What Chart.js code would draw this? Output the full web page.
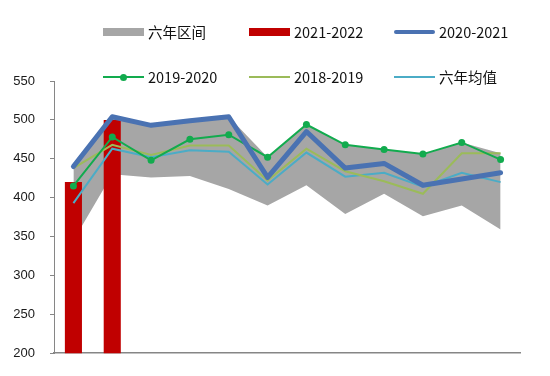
<!DOCTYPE html>
<html><head><meta charset="utf-8">
<script src="https://cdn.jsdelivr.net/npm/chart.js@4"></script>
<style>
html,body{margin:0;padding:0;background:#fff;}
#wrap{position:relative;width:550px;height:376px;overflow:hidden;}
canvas{position:absolute;left:0;top:0;}
.lg{position:absolute;font-family:"Noto Sans CJK SC","Noto Sans",sans-serif;font-size:14.5px;color:#111;line-height:18px;white-space:nowrap;}
.sw{position:absolute;}
</style></head><body>
<div id="wrap"><canvas id="c" width="550" height="376" style="width:550px;height:376px"></canvas><div id="legend"></div></div>
<script>
// ---- data ----
const categories = ['9月','10月','11月','12月','1月','2月','3月','4月','5月','6月','7月','8月'];
const yTicks = [200, 250, 300, 350, 400, 450, 500, 550];
const seriesNames = ['六年区间', '2021-2022', '2020-2021', '2019-2020', '2018-2019', '六年均值'];
const rangeLow  = [345, 430, 426, 428, 411, 390, 416, 379, 405, 376, 390, 359];
const rangeHigh = [440, 504, 493, 499, 504, 452, 494, 468, 462, 456, 471, 457];
const s2122 = [420, 500, null, null, null, null, null, null, null, null, null, null];
const s2021 = [440, 504, 493, 499, 504, 426, 485, 438, 444, 416, 424, 432];
const s1920 = [415, 478, 448, 475, 481, 452, 494, 468, 462, 456, 471, 449];
const s1819 = [438, 468, 455, 467, 467, 422, 463, 434, 421, 405, 457, 457];
const avg6  = [393, 463, 452, 461, 459, 417, 458, 427, 432, 414, 432, 420];

// ---- styles ----
const C_RANGE = '#A6A6A6', C_2122 = '#C00000', C_2021 = '#4A72B2',
      C_1920 = '#12AB4E', C_1819 = '#9BBB59', C_AVG = '#4BACC6';
const AXIS = '#868686';

const chart = new Chart(document.getElementById('c'), {
  type: 'bar',
  data: {
    labels: categories,
    datasets: [
      { type: 'line', label: seriesNames[0] + '下限', data: rangeLow, borderWidth: 0, borderColor: 'rgba(0,0,0,0)',
        pointRadius: 0, fill: false, order: 10, tension: 0 },
      { type: 'line', label: seriesNames[0], data: rangeHigh, borderWidth: 0, borderColor: 'rgba(0,0,0,0)',
        backgroundColor: C_RANGE, pointRadius: 0, fill: '-1', order: 9, tension: 0 },
      { type: 'bar', label: seriesNames[1], data: s2122, backgroundColor: C_2122,
        barPercentage: 0.44, categoryPercentage: 1, order: 5 },
      { type: 'line', label: seriesNames[5], data: avg6, borderColor: C_AVG, borderWidth: 2,
        pointRadius: 0, fill: false, order: 4, tension: 0 },
      { type: 'line', label: seriesNames[4], data: s1819, borderColor: C_1819, borderWidth: 2,
        pointRadius: 0, fill: false, order: 3, tension: 0 },
      { type: 'line', label: seriesNames[3], data: s1920, borderColor: C_1920, borderWidth: 2,
        pointRadius: 3.5, pointBackgroundColor: C_1920, pointBorderColor: C_1920, pointBorderWidth: 0,
        fill: false, order: 2, tension: 0 },
      { type: 'line', label: seriesNames[2], data: s2021, borderColor: C_2021, borderWidth: 5,
        borderJoinStyle: 'round', borderCapStyle: 'round',
        pointRadius: 0, fill: false, order: 1, tension: 0 }
    ]
  },
  options: {
    responsive: false,
    animation: false,
    layout: { padding: { top: 81, right: 30, bottom: 0, left: 0 } },
    plugins: { legend: { display: false }, tooltip: { enabled: false } },
    scales: {
      x: {
        offset: true,
        ticks: { display: false },
        grid: { display: false, drawTicks: false },
        border: { display: true, color: AXIS, width: 1.5 },
        afterFit(s) { s.height = 21; }
      },
      y: {
        min: yTicks[0], max: yTicks[yTicks.length - 1],
        afterBuildTicks(s) { s.ticks = yTicks.map(v => ({ value: v })); },
        ticks: { padding: 15, color: '#1a1a1a', font: { family: '"Liberation Sans", Arial, sans-serif', size: 13 } },
        grid: { display: true, drawOnChartArea: false, drawTicks: true, tickLength: 4, color: AXIS },
        border: { display: true, color: AXIS, width: 1 },
        afterFit(s) { s.width = 54; }
      }
    }
  }
});

// ---- HTML legend ----
const legendLayout = [
  { i: 0, kind: 'rect', color: C_RANGE, x: 103, y: 32 },
  { i: 1, kind: 'rect', color: C_2122,  x: 249, y: 32 },
  { i: 2, kind: 'thick', color: C_2021, x: 394, y: 32 },
  { i: 3, kind: 'dot',  color: C_1920,  x: 103, y: 77 },
  { i: 4, kind: 'line', color: C_1819,  x: 249, y: 77 },
  { i: 5, kind: 'line', color: C_AVG,   x: 394, y: 77 }
];
const lg = document.getElementById('legend');
legendLayout.forEach(it => {
  const w = 41;
  const sw = document.createElement('div');
  sw.className = 'sw';
  sw.style.left = it.x + 'px';
  sw.style.width = w + 'px';
  sw.style.background = it.color;
  if (it.kind === 'rect') { sw.style.top = (it.y - 4) + 'px'; sw.style.height = '8px'; }
  else if (it.kind === 'thick') { sw.style.top = (it.y - 2) + 'px'; sw.style.height = '4px'; sw.style.borderRadius = '2px'; }
  else { sw.style.top = (it.y - 1) + 'px'; sw.style.height = '2px'; }
  lg.appendChild(sw);
  if (it.kind === 'dot') {
    const d = document.createElement('div');
    d.className = 'sw';
    d.style.left = (it.x + w / 2 - 3.5) + 'px';
    d.style.top = (it.y - 3.5) + 'px';
    d.style.width = '7px'; d.style.height = '7px';
    d.style.borderRadius = '50%'; d.style.background = it.color;
    lg.appendChild(d);
  }
  const t = document.createElement('div');
  t.className = 'lg';
  t.textContent = seriesNames[it.i];
  t.style.left = (it.x + w + 4) + 'px';
  t.style.top = (it.y - 9) + 'px';
  lg.appendChild(t);
});
</script>
</body></html>
